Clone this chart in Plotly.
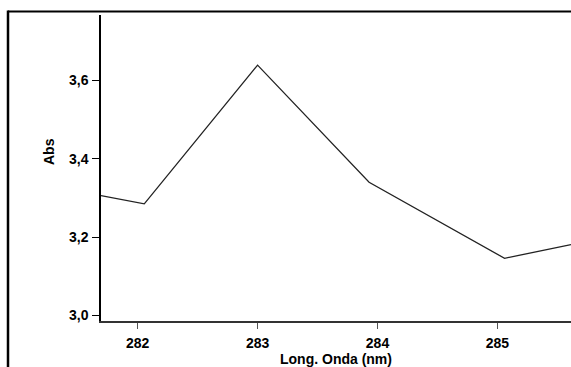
import plotly.graph_objects as go

# Data
wavelength_nm = [281.694, 282.055, 283.0, 283.93, 285.06, 285.614]
absorbance = [3.306, 3.285, 3.639, 3.340, 3.146, 3.181]

x_ticks = [282, 283, 284, 285]
y_ticks = [3.0, 3.2, 3.4, 3.6]

W, H = 571, 367
L, R, T, B = 101, 0, 15, 46
pw = W - L - R
ph = H - T - B

def px_x(p):
    return (p - L) / pw

def px_y(p):
    return (H - B - p) / ph

fig = go.Figure()
fig.add_trace(go.Scatter(
    x=wavelength_nm, y=absorbance, mode="lines",
    line=dict(color="#222222", width=1.3),
    showlegend=False, cliponaxis=True,
))

tick_font = dict(family="Liberation Sans, Arial, sans-serif", size=14, color="black", weight="bold")

fig.update_layout(
    width=W, height=H,
    margin=dict(l=L, r=R, t=T, b=B, pad=0),
    paper_bgcolor="white", plot_bgcolor="white",
    separators=",.",
    font=dict(family="Liberation Sans, Arial, sans-serif", color="black"),
    xaxis=dict(
        range=[281.694, 285.614], tickvals=x_ticks, ticktext=[str(v) for v in x_ticks],
        showgrid=False, zeroline=False, showline=True, linecolor="#333333", linewidth=2,
        ticks="outside", ticklen=6, tickwidth=1, tickcolor="#555555",
        tickfont=tick_font, ticklabelstandoff=2,
        title=dict(text="Long. Onda (nm)", font=dict(size=14, weight="bold"), standoff=1),
    ),
    yaxis=dict(
        range=[2.986, 3.767], tickvals=y_ticks, tickformat=".1f",
        showgrid=False, zeroline=False, showline=True, linecolor="black", linewidth=1.5,
        ticks="outside", ticklen=7, tickwidth=1, tickcolor="black",
        tickfont=tick_font, ticklabelstandoff=1,
    ),
    annotations=[
        dict(text="Abs", textangle=-90, xref="paper", yref="paper",
             x=px_x(49), y=px_y(152), xanchor="center", yanchor="middle",
             showarrow=False, font=dict(size=14, color="black", weight="bold")),
    ],
    shapes=[
        dict(type="line", xref="paper", yref="paper",
             x0=px_x(8), x1=px_x(572), y0=px_y(11.5), y1=px_y(11.5),
             line=dict(color="black", width=2.2)),
        dict(type="line", xref="paper", yref="paper",
             x0=px_x(8), x1=px_x(8), y0=px_y(10.5), y1=px_y(368),
             line=dict(color="black", width=2.5)),
    ],
)

fig.write_html("out.html")
